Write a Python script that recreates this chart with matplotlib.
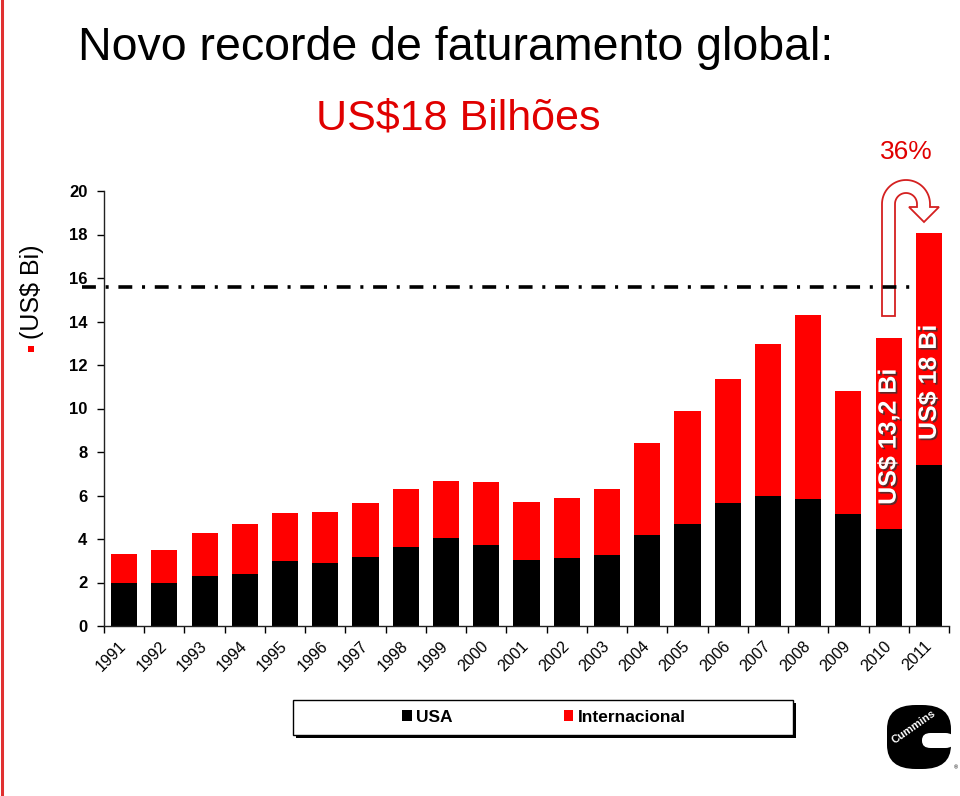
import matplotlib
matplotlib.use("Agg")
import matplotlib.pyplot as plt
import matplotlib.patheffects as pe
from matplotlib.patches import Patch, Rectangle, PathPatch, FancyBboxPatch
from matplotlib.path import Path
from matplotlib.lines import Line2D
import numpy as np

plt.rcParams['font.family'] = ['Liberation Sans', 'DejaVu Sans']

# ---------------- data ----------------
years = ['1991', '1992', '1993', '1994', '1995', '1996', '1997', '1998', '1999', '2000',
         '2001', '2002', '2003', '2004', '2005', '2006', '2007', '2008', '2009', '2010', '2011']
usa = [1.98, 1.98, 2.30, 2.39, 2.99, 2.90, 3.17, 3.63, 4.05, 3.74,
       3.03, 3.14, 3.28, 4.20, 4.71, 5.67, 5.98, 5.82, 5.15, 4.46, 7.40]
total = [3.31, 3.49, 4.28, 4.69, 5.20, 5.24, 5.66, 6.30, 6.67, 6.62,
         5.69, 5.87, 6.28, 8.41, 9.89, 11.36, 12.98, 14.31, 10.79, 13.23, 18.05]
internacional = [t - u for t, u in zip(total, usa)]
reference_level = 15.6
yticks = [0, 2, 4, 6, 8, 10, 12, 14, 16, 18, 20]
series_names = ['USA', 'Internacional']
bar_labels = {'2010': 'US$ 13,2 Bi', '2011': 'US$ 18 Bi'}
growth_label = '36%'

RED = '#ff0000'
TITLE_RED = '#e00000'

W, H = 960, 796
fig = plt.figure(figsize=(W / 100, H / 100), dpi=100)
fig.patch.set_facecolor('white')

def fx(px):
    return px / W

def fy(py):
    return 1 - py / H

ax = fig.add_axes([fx(104), fy(626), 845 / W, 435 / H])
ax.patch.set_alpha(0)
x = np.arange(len(years))
ax.bar(x, usa, width=0.65, color='black', zorder=2)
ax.bar(x, internacional, bottom=usa, width=0.65, color=RED, zorder=2)

ax.set_xlim(-0.5, len(years) - 0.5)
ax.set_ylim(0, 20)
ax.set_yticks(yticks)
ax.set_yticklabels([str(v) for v in yticks], fontsize=12, fontweight='bold')
ax.tick_params(axis='y', direction='out', length=5, width=1, pad=7, colors='black')

ax.set_xticks(x)
ax.set_xticklabels(years, rotation=45, ha='right', va='center', rotation_mode='anchor', fontsize=11.5)
ax.set_xticks(np.arange(-0.5, len(years), 1.0), minor=True)
ax.tick_params(axis='x', which='major', length=0, pad=13)
ax.tick_params(axis='x', which='minor', direction='out', length=5, width=1)

for s in ['top', 'right']:
    ax.spines[s].set_visible(False)
for s in ['left', 'bottom']:
    ax.spines[s].set_linewidth(1)
    ax.spines[s].set_color('#222222')

# dash-dot reference line
plt.rcParams['lines.scale_dashes'] = False
ln, = ax.plot([-1.05, 19.52], [reference_level, reference_level], color='black', lw=2.6,
              clip_on=False, zorder=5, solid_capstyle='butt')
ln.set_dashes([10, 7, 2.2, 7])
ln.set_dash_capstyle('butt')

# rotated bar labels
shadow = [pe.SimplePatchShadow(offset=(1.2, -1.2), shadow_rgbFace='#333333', alpha=0.8), pe.Normal()]
ax.text(years.index('2010'), 8.7, bar_labels['2010'], rotation=90, ha='center', va='center',
        color='white', fontsize=18, fontweight='bold', path_effects=shadow, zorder=6)
ax.text(years.index('2011'), 11.2, bar_labels['2011'], rotation=90, ha='center', va='center',
        color='white', fontsize=18, fontweight='bold', path_effects=shadow, zorder=6)

# U-turn arrow (pixel coordinates converted to figure fraction)
cx, cy, r_out, r_in = 906, 204, 24, 11
pts = [(882, 316), (882, cy)]
for th in np.linspace(np.pi, 0, 40):
    pts.append((cx + r_out * np.cos(th), cy - r_out * np.sin(th)))
pts += [(930, 207), (939, 207), (924, 222), (909, 207), (917, 207), (917, cy)]
for th in np.linspace(0, np.pi, 40):
    pts.append((cx + r_in * np.cos(th), cy - r_in * np.sin(th)))
pts += [(895, 316), (882, 316)]
verts = [(fx(a), fy(b)) for a, b in pts]
codes = [Path.MOVETO] + [Path.LINETO] * (len(verts) - 2) + [Path.CLOSEPOLY]
arrow = PathPatch(Path(verts, codes), facecolor='white', edgecolor='#d42020', lw=1.3,
                  transform=fig.transFigure, clip_on=False, zorder=4)
ax.add_patch(arrow)

# titles
fig.text(fx(78), fy(48), 'Novo recorde de faturamento global:', fontsize=33.5,
         ha='left', va='center', color='black')
fig.text(fx(458), fy(119), 'US$18 Bilhões', fontsize=31, ha='center', va='center', color=TITLE_RED)
fig.text(fx(906), fy(152), growth_label, fontsize=19, ha='center', va='center', color=TITLE_RED)

# y-axis label with bullet
fig.text(fx(32), fy(292), '(US$ Bi)', fontsize=18, rotation=90, ha='center', va='center')
fig.patches.append(Rectangle((fx(28), fy(352)), 6 / W, 6 / H, transform=fig.transFigure,
                             facecolor=RED, edgecolor='none'))

# left red border
fig.lines.append(Line2D([fx(1.5), fx(1.5)], [0, 1], transform=fig.transFigure,
                        color='#e03030', lw=2.2))

# legend box with shadow
fig.patches.append(Rectangle((fx(295.5), fy(738)), 500 / W, 35 / H, transform=fig.transFigure,
                             facecolor='black', edgecolor='none'))
fig.patches.append(Rectangle((fx(292.5), fy(735)), 500 / W, 35 / H, transform=fig.transFigure,
                             facecolor='white', edgecolor='black', lw=1))
handles = [Patch(facecolor='black', edgecolor='none'), Patch(facecolor=RED, edgecolor='none')]
leg = fig.legend(handles, series_names, loc='center', bbox_to_anchor=(fx(544), fy(717)),
                 ncol=2, frameon=False, handlelength=0.55, handleheight=0.55, handletextpad=0.25,
                 columnspacing=6.4, prop={'weight': 'bold', 'size': 12.5})

# Cummins logo (simplified)
logo = FancyBboxPatch((fx(887), fy(769)), 64 / W, 64 / H, boxstyle='round,pad=0,rounding_size=0.03',
                      transform=fig.transFigure, facecolor='black', edgecolor='none')
fig.patches.append(logo)
fig.patches.append(FancyBboxPatch((fx(922), fy(748)), 32 / W, 15 / H,
                                  boxstyle='round,pad=0,rounding_size=0.009',
                                  transform=fig.transFigure, facecolor='white', edgecolor='none'))
fig.text(fx(914), fy(727), 'Cummins', fontsize=8, fontweight='bold', color='white',
         rotation=35, ha='center', va='center')
fig.text(fx(956), fy(768), '®', fontsize=4, ha='center', va='center')

fig.savefig('out.png', dpi=100)
